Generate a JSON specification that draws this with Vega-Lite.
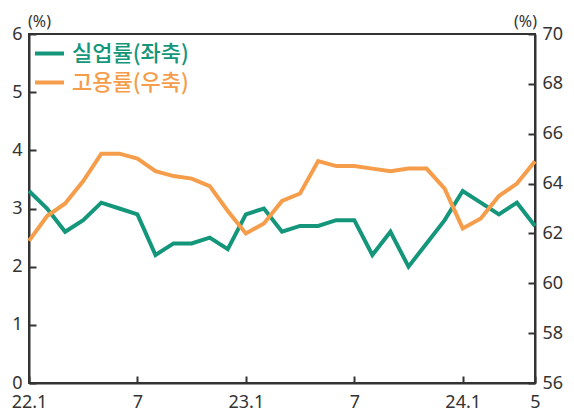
{
  "$schema": "https://vega.github.io/schema/vega-lite/v6.json",
  "width": 506,
  "height": 349,
  "autosize": {"type": "none"},
  "padding": {"left": 29, "top": 34, "right": 39, "bottom": 29},
  "background": "white",
  "config": {
    "view": {"stroke": "#333333", "strokeWidth": 2},
    "font": "Noto Sans",
    "axis": {
      "grid": false,
      "domainColor": "#333333",
      "domainWidth": 2,
      "tickColor": "#333333",
      "tickWidth": 2,
      "tickSize": -7,
      "labelPadding": 14,
      "labelFontSize": 18,
      "labelColor": "#333333",
      "labelFont": "Noto Sans",
      "titleFont": "Noto Sans",
      "titleFontSize": 16,
      "titleFontWeight": "normal",
      "titleColor": "#333333",
      "titleAngle": 0,
      "titleAlign": "center",
      "titleBaseline": "middle"
    }
  },
  "data": {
    "values": [
      {"idx": 0, "unemp": 3.3, "emp": 61.7},
      {"idx": 1, "unemp": 3.0, "emp": 62.7},
      {"idx": 2, "unemp": 2.6, "emp": 63.2},
      {"idx": 3, "unemp": 2.8, "emp": 64.1},
      {"idx": 4, "unemp": 3.1, "emp": 65.2},
      {"idx": 5, "unemp": 3.0, "emp": 65.2},
      {"idx": 6, "unemp": 2.9, "emp": 65.0},
      {"idx": 7, "unemp": 2.2, "emp": 64.5},
      {"idx": 8, "unemp": 2.4, "emp": 64.3},
      {"idx": 9, "unemp": 2.4, "emp": 64.2},
      {"idx": 10, "unemp": 2.5, "emp": 63.9},
      {"idx": 11, "unemp": 2.3, "emp": 62.9},
      {"idx": 12, "unemp": 2.9, "emp": 62.0},
      {"idx": 13, "unemp": 3.0, "emp": 62.4},
      {"idx": 14, "unemp": 2.6, "emp": 63.3},
      {"idx": 15, "unemp": 2.7, "emp": 63.6},
      {"idx": 16, "unemp": 2.7, "emp": 64.9},
      {"idx": 17, "unemp": 2.8, "emp": 64.7},
      {"idx": 18, "unemp": 2.8, "emp": 64.7},
      {"idx": 19, "unemp": 2.2, "emp": 64.6},
      {"idx": 20, "unemp": 2.6, "emp": 64.5},
      {"idx": 21, "unemp": 2.0, "emp": 64.6},
      {"idx": 22, "unemp": 2.4, "emp": 64.6},
      {"idx": 23, "unemp": 2.8, "emp": 63.8},
      {"idx": 24, "unemp": 3.3, "emp": 62.2},
      {"idx": 25, "unemp": 3.1, "emp": 62.6},
      {"idx": 26, "unemp": 2.9, "emp": 63.5},
      {"idx": 27, "unemp": 3.1, "emp": 64.0},
      {"idx": 28, "unemp": 2.7, "emp": 64.9}
    ]
  },
  "encoding": {
    "x": {
      "field": "idx",
      "type": "quantitative",
      "scale": {"domain": [0, 28], "nice": false, "zero": false},
      "axis": {
        "values": [0, 6, 12, 18, 24, 28],
        "labelExpr": "datum.value == 0 ? '22.1' : datum.value == 12 ? '23.1' : datum.value == 24 ? '24.1' : datum.value == 28 ? '5' : '7'",
        "title": null,
        "labelPadding": 17,
        "labelFlush": false
      }
    }
  },
  "layer": [
    {
      "mark": {"type": "line", "strokeWidth": 4},
      "encoding": {
        "y": {
          "field": "unemp",
          "type": "quantitative",
          "scale": {"domain": [0, 6], "nice": false},
          "axis": {
            "orient": "left",
            "values": [0, 1, 2, 3, 4, 5, 6],
            "title": "(%)",
            "titleX": 10,
            "titleY": -13
          }
        },
        "color": {
          "datum": "실업률(좌축)",
          "type": "nominal",
          "scale": {
            "domain": ["실업률(좌축)", "고용률(우축)"],
            "range": ["#14967a", "#f59d4a"]
          },
          "legend": {
            "title": null,
            "orient": "none",
            "legendX": 4,
            "legendY": 3,
            "symbolType": "stroke",
            "symbolSize": 841,
            "symbolStrokeWidth": 4,
            "labelFont": "Noto Sans CJK KR",
            "labelFontSize": 22,
            "labelFontWeight": 500,
            "labelOffset": 6,
            "rowPadding": 1,
            "encode": {
              "labels": {"update": {"fill": {"scale": "color", "field": "value"}}}
            }
          }
        }
      }
    },
    {
      "mark": {"type": "line", "strokeWidth": 4},
      "encoding": {
        "y": {
          "field": "emp",
          "type": "quantitative",
          "scale": {"domain": [56, 70], "nice": false, "zero": false},
          "axis": {
            "orient": "right",
            "values": [56, 58, 60, 62, 64, 66, 68, 70],
            "title": "(%)",
            "titleX": -10,
            "titleY": -13
          }
        },
        "color": {"datum": "고용률(우축)", "type": "nominal"}
      }
    }
  ],
  "resolve": {"scale": {"y": "independent"}}
}
